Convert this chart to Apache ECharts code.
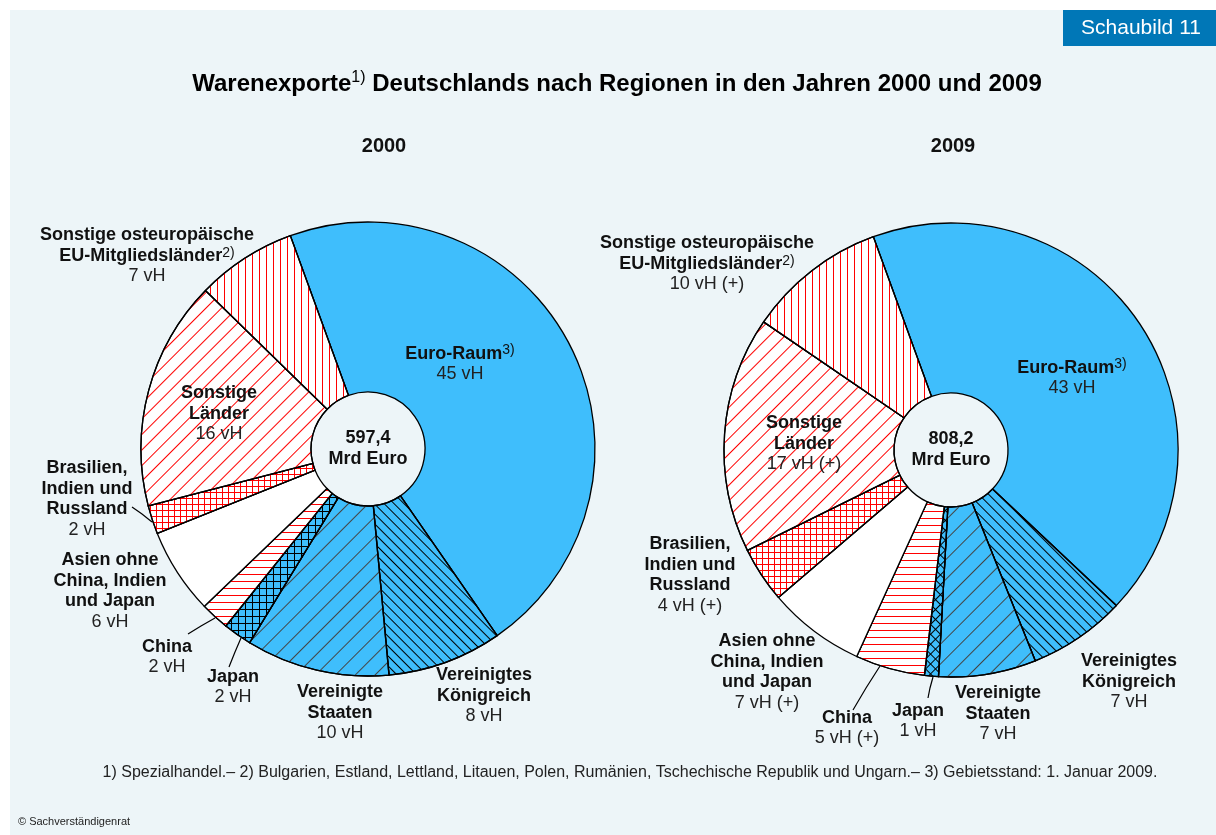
<!DOCTYPE html>
<html lang="de">
<head>
<meta charset="UTF-8" />
<title>Warenexporte Deutschlands nach Regionen</title>
<script src="https://cdn.jsdelivr.net/npm/echarts@6/dist/echarts.min.js"></script>
<style>
  html, body { margin: 0; padding: 0; background: #fff; }
  #chart { width: 1216px; height: 835px; }
</style>
</head>
<body>
<div id="chart"></div>
<script>
// data
const regions = [
  'Euro-Raum', 'Vereinigtes Königreich', 'Vereinigte Staaten', 'Japan', 'China',
  'Asien ohne China, Indien und Japan', 'Brasilien, Indien und Russland',
  'Sonstige Länder', 'Sonstige osteuropäische EU-Mitgliedsländer'
];
const labelLines = [
  ['Euro-Raum'], ['Vereinigtes', 'Königreich'], ['Vereinigte', 'Staaten'], ['Japan'], ['China'],
  ['Asien ohne', 'China, Indien', 'und Japan'], ['Brasilien,', 'Indien und', 'Russland'],
  ['Sonstige', 'Länder'], ['Sonstige osteuropäische', 'EU-Mitgliedsländer']
];
const footRefs = ['3)', '', '', '', '', '', '', '', '2)'];
const share2000 = [45, 8, 10, 2, 2, 6, 2, 16, 7];
const share2009 = [43, 7, 7, 1, 5, 7, 4, 17, 10];
const plus2000 = [false, false, false, false, false, false, false, false, false];
const plus2009 = [false, false, false, false, true, true, true, true, true];
const years = ['2000', '2009'];
const totals = ['597,4', '808,2'];

// layout
const FONT = '"Liberation Sans", Arial, sans-serif';
const pieCenters = [[368, 449], [951, 450]];
const labelPos = [
  [[460, 364], [484, 696], [340, 713], [233, 687], [167, 657], [110, 591], [87, 499], [219, 414], [147, 256]],
  [[1072, 378], [1129, 682], [998, 714], [918, 721], [847, 728], [767, 672], [690, 575], [804, 444], [707, 264]]
];
const leaderLines = [
  { 3: [[229, 667], [235, 652], [241, 638]], 4: [[188, 634], [201, 626], [215, 618]], 6: [[132, 507], [142, 514], [152, 522]] },
  { 3: [[928, 698], [930, 688], [933, 677]], 4: [[853, 710], [866, 688], [880, 666]] }
];

const blue = '#3fbefc';
const red = '#ff0000';
function hatch(color, gap, rot) {
  return { color: color, symbol: 'rect', dashArrayX: [1, 0], dashArrayY: [1, gap], rotation: rot };
}
// grid lines drawn as an L-shaped symbol in every cell
function grid(color, cell, rot) {
  const c = cell;
  return {
    color: color,
    symbol: 'path://M0 0H' + c + 'V1H0ZM0 1H1V' + c + 'H0Z',
    symbolKeepAspect: false,
    dashArrayX: [c, 0], dashArrayY: [c, 0],
    rotation: rot || 0
  };
}
function styles(year) {
  return [
    { color: blue },
    { color: blue, decal: hatch('#000', 6, Math.PI / 4) },
    { color: blue, decal: hatch('#444', 13, -Math.PI / 4) },
    { color: blue, decal: grid('#000', 7, year === 0 ? 0 : Math.PI / 4) },
    { color: '#fff', decal: hatch(red, 6, 0) },
    { color: '#fff' },
    { color: '#fff', decal: grid(red, 6) },
    { color: '#fff', decal: hatch(red, 10, -Math.PI / 4) },
    { color: '#fff', decal: { color: red, symbol: 'rect', dashArrayX: [1, 6], dashArrayY: [1, 0] } }
  ];
}

function labelText(i, share, plus) {
  const lines = labelLines[i].map((l, k) =>
    '{b|' + l + '}' + (k === labelLines[i].length - 1 && footRefs[i] ? '{s|' + footRefs[i] + '}' : ''));
  lines.push('{v|' + share[i] + ' vH' + (plus[i] ? ' (+)' : '') + '}');
  return lines.join('\n');
}

function makeSeries(y, share, plus) {
  const st = styles(y);
  return {
    type: 'pie',
    center: pieCenters[y],
    radius: [57, 227],
    startAngle: 110,
    clockwise: true,
    avoidLabelOverlap: false,
    silent: true,
    itemStyle: { borderColor: '#000', borderWidth: 1.3 },
    label: {
      show: true,
      position: 'outside',
      overflow: 'none',
      color: '#111',
      formatter: p => labelText(p.dataIndex, share, plus),
      rich: {
        b: { fontFamily: FONT, fontSize: 18, fontWeight: 'bold', color: '#111', lineHeight: 20.5 },
        s: { fontFamily: FONT, fontSize: 14, color: '#111', lineHeight: 20.5, verticalAlign: 'top' },
        v: { fontFamily: FONT, fontSize: 18, color: '#222', lineHeight: 20.5 }
      }
    },
    labelLine: { show: false },
    labelLayout: p => {
      const pos = labelPos[y][p.dataIndex];
      const out = { x: pos[0], y: pos[1], align: 'center', verticalAlign: 'middle' };
      const ln = leaderLines[y][p.dataIndex];
      if (ln) out.labelLinePoints = ln;
      return out;
    },
    data: regions.map((name, i) => ({
      name: name,
      value: share[i],
      itemStyle: st[i],
      labelLine: leaderLines[y][i] ? { show: true, length: 5, length2: 5, lineStyle: { color: '#000', width: 1.2 } } : { show: false }
    }))
  };
}

const chart = echarts.init(document.getElementById('chart'));
const option = {
  animation: false,
  backgroundColor: '#fff',
  graphic: [
    { type: 'rect', z: -10, shape: { x: 10, y: 10, width: 1206, height: 825 }, style: { fill: '#edf5f8' } },
    { type: 'rect', shape: { x: 1063, y: 10, width: 153, height: 36 }, style: { fill: '#0077b7' } },
    { type: 'text', x: 1141, y: 28, style: { text: 'Schaubild 11', fill: '#fff', font: '21px ' + FONT, textAlign: 'center', textVerticalAlign: 'middle' } },
    {
      type: 'text', x: 617, y: 84,
      style: {
        text: '{b|Warenexporte}{s|1)}{b| Deutschlands nach Regionen in den Jahren 2000 und 2009}',
        textAlign: 'center', textVerticalAlign: 'middle',
        rich: {
          b: { fontFamily: FONT, fontSize: 24, fontWeight: 'bold', color: '#111', lineHeight: 28 },
          s: { fontFamily: FONT, fontSize: 16, color: '#111', lineHeight: 28, verticalAlign: 'top' }
        }
      }
    },
    { type: 'text', x: 384, y: 146, style: { text: years[0], fill: '#111', font: 'bold 20px ' + FONT, textAlign: 'center', textVerticalAlign: 'middle' } },
    { type: 'text', x: 953, y: 146, style: { text: years[1], fill: '#111', font: 'bold 20px ' + FONT, textAlign: 'center', textVerticalAlign: 'middle' } },
    { type: 'text', x: pieCenters[0][0], y: pieCenters[0][1], style: { text: totals[0] + '\nMrd Euro', fill: '#111', font: 'bold 18px ' + FONT, lineHeight: 21, textAlign: 'center', textVerticalAlign: 'middle' } },
    { type: 'text', x: pieCenters[1][0], y: pieCenters[1][1], style: { text: totals[1] + '\nMrd Euro', fill: '#111', font: 'bold 18px ' + FONT, lineHeight: 21, textAlign: 'center', textVerticalAlign: 'middle' } },
    {
      type: 'text', x: 630, y: 773,
      style: {
        text: '1) Spezialhandel.– 2) Bulgarien, Estland, Lettland, Litauen, Polen, Rumänien, Tschechische Republik und Ungarn.– 3) Gebietsstand: 1. Januar 2009.',
        fill: '#222', font: '16px ' + FONT, textAlign: 'center', textVerticalAlign: 'middle'
      }
    },
    { type: 'text', x: 18, y: 822, style: { text: '© Sachverständigenrat', fill: '#222', font: '11px ' + FONT, textAlign: 'left', textVerticalAlign: 'middle' } }
  ],
  series: [makeSeries(0, share2000, plus2000), makeSeries(1, share2009, plus2009)]
};
chart.setOption(option);
</script>
</body>
</html>
